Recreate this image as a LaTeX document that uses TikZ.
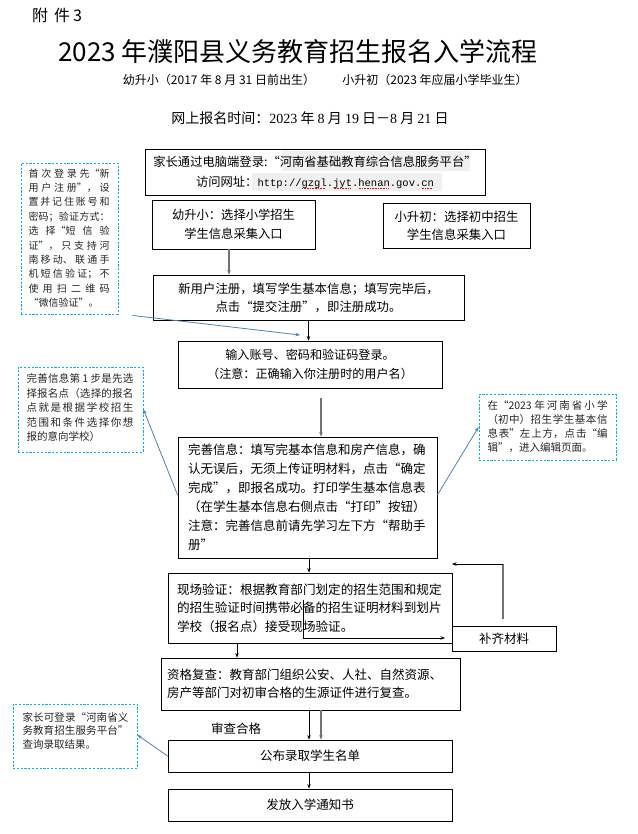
\documentclass[tikz,border=0pt]{standalone}
\usepackage{fontspec}
\setmainfont{Noto Sans CJK SC}
\newfontfamily\urlfont{Liberation Mono}
\newfontfamily\serifd{Liberation Serif}
\usetikzlibrary{arrows.meta,calc}
\XeTeXlinebreaklocale "zh"
\XeTeXlinebreakskip=0pt plus 1pt
\newcommand{\myfs}[2]{\fontsize{#1pt}{#2pt}\selectfont}
\newcommand{\LQ}{{\addfontfeature{CharacterWidth=Full}“}}
\newcommand{\RQ}{{\addfontfeature{CharacterWidth=Full}”}}
\newcommand{\sperr}[1]{\setbox0=\hbox{#1}\rlap{\raisebox{-2.6pt}[0pt][0pt]{\textcolor{red}{\leaders\hbox to 1.6pt{\hss\rule{0.7pt}{0.7pt}\hss}\hskip\wd0}}}\box0}
\definecolor{noteblue}{HTML}{00B0F0}
\definecolor{linkblue}{HTML}{4F81BD}
\tikzset{
  mainbox/.style={draw=black, line width=0.8pt, inner sep=0pt, align=center},
  note/.style={draw=noteblue, dash pattern=on 2.2pt off 1.6pt, line width=0.9pt, inner sep=0pt},
  notetext/.style={align=justify, inner sep=0pt, text=black!85},
  darrow/.style={-{Stealth[length=4.5pt,width=3.5pt]}, draw=black, line width=0.7pt},
  garrow/.style={-{Stealth[length=4.5pt,width=3.5pt]}, draw=black!55, line width=1.4pt},
  gline/.style={draw=black!55, line width=1.4pt},
  barrow/.style={-{Stealth[length=4.5pt,width=3.5pt]}, draw=linkblue, line width=0.8pt},
}
\begin{document}
\begin{tikzpicture}[x=1pt,y=-1pt]
\fill[white] (0,0) rectangle (637,834);
\useasboundingbox (0,0) rectangle (637,834);

% header
\node[font=\myfs{16}{18}] (fj) at (57,15) {附\hspace{6pt}件\hspace{3pt}3};
\node[font=\myfs{26}{30}] (title) at (298,52) {2023 年濮阳县义务教育招生报名入学流程};
\node[font=\myfs{12}{15}] (sub1) at (219,80) {幼升小（2017 年 8 月 31 日前出生）};
\node[font=\myfs{12}{15}] (sub2) at (435,80) {小升初（2023 年应届小学毕业生）};
\node[font=\myfs{14}{17}] (time) at (310,118) {网上报名时间：{\serifd 2023} 年 {\serifd 8} 月 {\serifd 19} 日－{\serifd 8} 月 {\serifd 21} 日};

% light highlight in first box
\fill[black!6] (282,151) rectangle (470,171);
\fill[black!6] (252,173) rectangle (442,191);

% main boxes
\node[mainbox, minimum width=340pt, minimum height=46pt, font=\myfs{12.3}{20}] (b1) at (315,172)
  {家长通过电脑端登录:\LQ 河南省基础教育综合信息服务平台\RQ\\访问网址：{\urlfont\fontsize{10.5pt}{20pt}\selectfont http://\sperr{gzgl}.\sperr{jyt}.\sperr{henan}.gov.\sperr{cn}}};
\node[mainbox, minimum width=163pt, minimum height=49pt, font=\myfs{12.3}{19}] (b2) at (233.5,224.5)
  {幼升小：选择小学招生\\学生信息采集入口};
\node[mainbox, minimum width=147pt, minimum height=45pt, font=\myfs{12.4}{18}] (b3) at (456.5,225.5)
  {小升初：选择初中招生\\学生信息采集入口};
\node[mainbox, minimum width=311pt, minimum height=45pt, font=\myfs{12.4}{18}] (b4) at (308.5,297.5)
  {新用户注册，填写学生基本信息；填写完毕后，\\点击\LQ 提交注册\RQ，即注册成功。};
\node[mainbox, minimum width=264pt, minimum height=47pt, font=\myfs{12.1}{19}] (b5) at (310,364.5)
  {输入账号、密码和验证码登录。\\（注意：正确输入你注册时的用户名）};
\node[mainbox, align=left, text width=239pt, minimum width=259pt, minimum height=121pt, font=\myfs{12.5}{19}] (b6) at (307.5,497.5)
  {完善信息：填写完基本信息和房产信息，确\\认无误后，无须上传证明材料，点击\LQ 确定\\完成\RQ，即报名成功。打印学生基本信息表\\（在学生基本信息右侧点击\LQ 打印\RQ 按钮）\\注意：完善信息前请先学习左下方\LQ 帮助手\\册\RQ};
\node[mainbox, align=left, text width=266pt, minimum width=284pt, minimum height=70pt, font=\myfs{12.6}{18.5}] (b7) at (310,608)
  {现场验证：根据教育部门划定的招生范围和规定\\的招生验证时间携带必备的招生证明材料到划片\\学校（报名点）接受现场验证。};
\node[mainbox, minimum width=104pt, minimum height=25pt, font=\myfs{12.5}{15}] (buqi) at (504,638.5) {补齐材料};
\node[mainbox, align=left, text width=287pt, minimum width=299pt, minimum height=52pt, font=\myfs{12.5}{18}] (b8) at (310.5,684)
  {资格复查：教育部门组织公安、人社、自然资源、\\房产等部门对初审合格的生源证件进行复查。};
\node[mainbox, minimum width=284pt, minimum height=32pt, font=\myfs{12.5}{15}] (b9) at (310,756) {公布录取学生名单};
\node[mainbox, minimum width=284pt, minimum height=32pt, font=\myfs{12.5}{15}] (b10) at (310,805) {发放入学通知书};
\node[font=\myfs{12.5}{15}] (pass) at (236,729) {审查合格};

% callouts
\node[note, minimum width=97pt, minimum height=151pt] (c1) at (69.5,238.5) {};
\node[notetext, text width=81pt, font=\myfs{10}{14.4}] (c1t) at (69,238)
  {\XeTeXlinebreakskip=0pt plus 8pt\relax 首次登录先\LQ 新\linebreak 用户注册\RQ，设\linebreak 置并记住账号和\linebreak 密码；验证方式：\linebreak 选择\LQ 短信验\linebreak 证\RQ，只支持河\linebreak 南移动、联通手\linebreak 机短信验证；不\linebreak 使用扫二维码\linebreak \LQ 微信验证\RQ。};
\node[note, minimum width=125pt, minimum height=85pt] (c2) at (80.5,409.5) {};
\node[notetext, text width=107pt, font=\myfs{10.5}{14.5}] (c2t) at (80,408)
  {\XeTeXlinebreakskip=0pt plus 8pt\relax 完善信息第 1 步是先选\linebreak 择报名点（选择的报名\linebreak 点就是根据学校招生\linebreak 范围和条件选择你想\linebreak 报的意向学校）};
\node[note, minimum width=137pt, minimum height=66pt] (c3) at (547.5,427) {};
\node[notetext, text width=120pt, font=\myfs{10.5}{14}] (c3t) at (547.5,427)
  {\XeTeXlinebreakskip=0pt plus 8pt\relax 在\LQ 2023 年河南省小学\linebreak （初中）招生学生基本信\linebreak 息表\RQ 左上方，点击\LQ 编\linebreak 辑\RQ，进入编辑页面。};
\node[note, minimum width=124pt, minimum height=64pt] (c4) at (75,736) {};
\node[notetext, text width=106pt, font=\myfs{10.5}{13.5}] (c4t) at (75.5,730.5)
  {\XeTeXlinebreakskip=0pt plus 8pt\relax 家长可登录\LQ 河南省义\linebreak 务教育招生服务平台\RQ\linebreak 查询录取结果。};

% flow connectors
\draw[garrow] ([xshift=-4.5pt]b2.south) -- ([xshift=-4.5pt]b2.south |- b4.north);
\draw[darrow] (b4.south) -- (b4.south |- b5.north);
\draw[garrow] ([xshift=11pt,yshift=-10pt]b5.south) -- ([xshift=11pt]b5.south |- b6.north);
\draw[darrow] ([xshift=1.5pt]b6.south) -- ([xshift=1.5pt]b6.south |- b7.north);
\draw[darrow] ([xshift=-73pt]b7.south) -- ([xshift=-73pt]b7.south |- b8.north);
\draw[darrow] ([xshift=-1.5pt]b8.south) -- ([xshift=-1.5pt]b8.south |- b9.north);
\draw[garrow] ([xshift=10.5pt]b8.south) -- ([xshift=10.5pt]b8.south |- b9.north);
\draw[darrow] ([xshift=-1pt]b9.south) -- ([xshift=-1pt]b9.south |- b10.north);

% supplement loop
\coordinate (lpB) at (503,564);
\coordinate (lpC) at (452,564);
\draw[gline] ([xshift=-1pt,yshift=7pt]buqi.north) -- (lpB);
\draw[darrow] (lpB) -- (lpC);
\coordinate (inA) at (303,600);
\coordinate (inB) at (445,638);
\draw[darrow] (inA) |- (inB);

% callout connectors
\coordinate (c1e) at (300,335);
\draw[barrow] ([xshift=14pt,yshift=-1pt]c1.south east) -- (c1e);
\draw[barrow] ([yshift=2.5pt]b6.west) -- (c2.east);
\draw[barrow] ([yshift=2.5pt]b6.east) -- (c3.west);
\draw[barrow] (b9.west) -- ([yshift=1pt]c4.east);
\end{tikzpicture}
\end{document}
